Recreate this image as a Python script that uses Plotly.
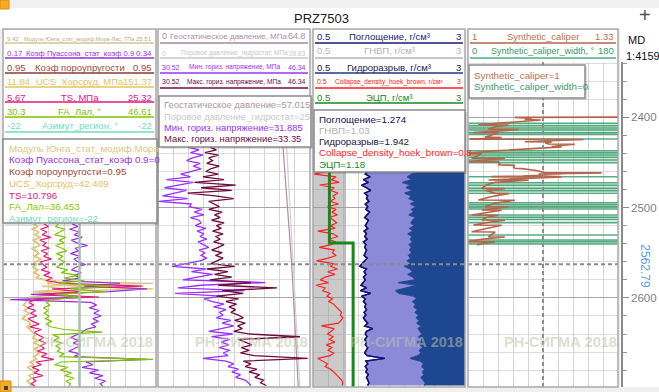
import plotly.graph_objects as go

W, H = 659, 392
FONT = "Liberation Sans"

# ---------------- data ----------------
# Track 1 (geomechanics), depth sampling grid
t1_depth = list(range(2518, 2701, 3))
young = [12.6, 13.0, 12.4, 13.2, 12.7, 13.4, 12.5, 12.9, 13.3, 12.4, 12.8, 13.1, 12.6, 13.5, 12.7, 12.9,
         12.5, 13.0, 12.6, 13.2, 12.8,
         14.0, 25.2, 13.5, 16.0, 12.6, 15.0, 12.2, 11.9,
         11.8, 11.5, 12.0, 11.6, 12.2, 11.7, 11.4, 12.1, 12.3, 11.9, 12.2, 12.4,
         12.8, 12.5, 13.0, 12.6, 13.3, 12.7, 12.9, 13.1, 12.6, 13.0,
         12.2, 12.6, 12.0, 12.4, 12.8, 12.1, 12.5, 11.9, 12.3, 12.4]
ucs = [40.5, 43.8, 39.6, 44.9, 41.2, 46.1, 40.1, 43.5, 45.6, 39.8, 42.7, 44.8, 40.9, 46.5, 41.8, 42.4,
       39.5, 44.2, 41.0, 45.3, 43.0,
       60.2, 52.0, 75.0, 148.6, 44.0, 71.3, 38.5, 35.0,
       33.1, 30.8, 34.9, 31.6, 36.2, 32.4, 30.5, 35.3, 37.4, 33.8, 36.9, 38.5,
       42.1, 39.5, 44.0, 40.8, 46.2, 41.5, 43.9, 45.0, 40.6, 42.2,
       36.8, 39.9, 34.5, 38.2, 41.6, 35.7, 37.9, 34.2, 36.5, 37.2]
ts = [10.9, 11.5, 10.5, 11.3, 10.7, 11.8, 10.4, 11.2, 10.8, 11.6, 10.6, 11.4, 10.9, 11.9, 10.5, 10.8,
      11.3, 10.6, 11.7, 10.9, 12.0,
      11.2, 13.5, 23.6, 12.0, 15.5, 10.7, 18.0, 9.8,
      9.0, 9.6, 8.8, 9.9, 9.2, 10.0, 8.9, 9.5, 10.3, 9.1, 10.6, 9.7,
      10.2, 10.9, 10.3, 11.2, 10.5, 11.0, 10.1, 11.3, 10.6, 12.2,
      9.9, 10.6, 9.4, 10.3, 9.7, 10.8, 9.5, 9.9, 9.3, 9.8]
fa = [36.2, 35.9, 36.9, 36.4, 35.8, 37.0, 36.3, 36.8, 35.9, 36.6, 37.1, 36.0, 36.7, 36.2, 36.9, 36.45,
      36.0, 37.2, 36.5, 38.3, 36.8,
      39.0, 36.2, 42.0, 37.5, 41.2, 36.0, 38.4, 35.6,
      34.9, 35.3, 34.6, 35.1, 34.7, 35.2, 34.8, 35.5, 34.9, 35.4, 36.8, 40.9,
      35.6, 36.3, 35.7, 36.6, 35.9, 36.4, 36.1, 36.8, 36.3, 46.3,
      36.5, 35.8, 37.2, 36.4, 37.6, 36.9, 37.9, 37.0, 37.5, 37.3]
poisson = [0.247, 0.253, 0.244, 0.255, 0.249, 0.258, 0.246, 0.252, 0.264, 0.250, 0.254, 0.245, 0.256, 0.249, 0.253, 0.262,
           0.251, 0.246, 0.257, 0.250, 0.255,
           0.236, 0.300, 0.260, 0.330, 0.288, 0.201, 0.262, 0.178,
           0.268, 0.274, 0.266, 0.277, 0.271, 0.279, 0.270, 0.276, 0.268, 0.273, 0.262, 0.258,
           0.251, 0.245, 0.254, 0.248, 0.256, 0.250, 0.243, 0.255, 0.249, 0.330,
           0.262, 0.270, 0.258, 0.276, 0.266, 0.281, 0.272, 0.284, 0.278, 0.281]
azimuth_depth = [2518, 2699]
azimuth = [-22, -22]

# Track 2 (stresses)
t2_depth = list(range(2433, 2698, 3))
sh_min = [33.6, 34.8, 33.9, 35.2, 34.1, 33.5, 34.9, 34.2, 35.0, 33.8,
          32.9, 33.9, 31.4, 34.2, 32.6, 31.2, 33.5, 32.1, 31.0, 33.6,
          30.6, 34.0, 33.8, 35.1, 34.3, 35.3, 33.9, 34.8, 35.0, 34.4,
          35.5, 34.6, 35.3, 34.9, 35.6, 34.7, 35.2, 35.8, 34.8, 35.4,
          35.0, 35.6, 34.9, 33.5, 32.0, 35.5, 34.0, 36.2, 34.6, 33.1,
          41.7, 35.0, 32.6, 39.5, 32.3, 37.0, 35.3, 36.2, 37.4, 36.3,
          37.6, 36.9, 37.3, 36.6, 38.1, 37.2, 38.4, 37.0, 35.8, 38.3,
          36.1, 38.0, 37.1, 37.9, 36.9, 38.0, 37.3, 37.8, 35.2, 37.6,
          38.4, 37.8, 38.9, 38.2, 39.1, 38.6, 39.6, 39.9, 40.2]
sh_max = [35.9, 36.6, 35.4, 36.8, 35.8, 36.2, 35.6, 36.9, 36.0, 35.5,
          36.8, 35.2, 37.4, 34.3, 38.6, 35.0, 38.2, 33.6, 36.5, 38.4,
          35.8, 36.3, 36.9, 35.8, 37.2, 36.4, 37.0, 36.1, 37.4, 36.6,
          37.1, 36.2, 37.3, 36.5, 37.0, 36.3, 37.4, 36.8, 36.1, 37.2,
          36.5, 37.3, 36.7, 36.0, 38.5, 35.6, 37.8, 36.4, 38.2, 35.9,
          40.2, 36.8, 42.9, 37.2, 39.4, 36.6, 38.9, 37.6, 38.7, 37.9,
          38.6, 38.1, 38.9, 39.4, 38.5, 39.6, 38.8, 39.3, 38.4, 40.1,
          45.3, 38.9, 39.6, 40.3, 39.2, 40.0, 39.1, 40.5, 46.1, 39.4,
          40.2, 39.6, 40.8, 40.0, 41.1, 40.6, 41.5, 41.2, 41.8]
geo_depth = [2433, 2562.79, 2699]
geostatic = [53.3, 57.0, 59.8]
pore = [24.4, 25.6, 26.9]

# Track 3 (mud weight window)
t3_depth = list(range(2460, 2700, 3))
loss = [1.40, 1.36, 1.44, 1.33, 1.41, 1.30, 1.38, 1.45, 1.35, 1.40,
        1.38, 1.42, 1.36, 1.40, 1.37, 1.43, 1.39, 1.35, 1.41, 1.38,
        1.36, 1.40, 1.34, 1.38, 1.35, 1.39, 1.33, 1.37, 1.35, 1.38,
        1.36, 1.34, 1.39, 1.35, 1.30, 1.27, 1.38, 1.34, 1.37, 1.33,
        1.36, 1.33, 1.29, 1.38, 1.28, 1.45, 1.30, 1.36, 1.33, 1.37,
        1.35, 1.38, 1.34, 1.37, 1.33, 1.36, 1.40, 1.35, 1.48, 1.38,
        1.36, 1.39, 1.35, 1.38, 1.36, 1.40, 1.37, 1.35, 1.39, 1.68,
        1.37, 1.40, 1.36, 1.39, 1.37, 1.41, 1.38, 1.40, 1.42, 1.40]
frac = [2.26, 2.12, 2.05, 2.14, 1.97, 2.10, 2.03, 2.15, 2.01, 2.12,
        2.08, 2.18, 2.10, 2.20, 2.12, 2.16, 2.08, 2.19, 2.14, 2.11,
        2.17, 2.09, 2.15, 2.06, 2.13, 2.10, 2.14, 2.08, 2.12, 2.09,
        2.13, 2.07, 2.11, 2.05, 2.12, 2.00, 2.10, 2.14, 2.06, 2.15,
        2.18, 1.90, 2.20, 2.05, 1.86, 1.92, 2.16, 2.21, 2.14, 2.19,
        2.16, 2.22, 2.18, 2.24, 2.20, 2.25, 2.21, 2.28, 2.23, 2.26,
        2.30, 2.24, 2.29, 2.22, 2.27, 2.31, 2.25, 2.28, 2.23, 2.10,
        2.27, 2.32, 2.29, 2.34, 2.30, 2.33, 2.28, 2.32, 2.35, 2.33]
collapse = [0.72, 0.52, 0.88, 0.80, 0.93, 0.61, 0.85, 0.79, 0.91, 0.83,
            0.86, 0.78, 0.92, 0.74, 0.88, 0.81, 0.90, 0.77, 0.84, 0.89,
            0.79, 0.86, 0.58, 0.83, 0.91, 0.76, 0.87, 0.80, 0.60, 0.85,
            0.82, 0.88, 0.75, 0.56, 0.84, 0.79, 0.90, 0.74, 0.86, 0.70,
            0.62, 0.75, 0.55, 0.70, 0.66, 0.78, 0.73, 0.82, 0.76, 0.84,
            0.88, 0.93, 0.97, 0.95, 0.99, 0.96, 0.92, 0.64, 0.85, 0.80,
            0.74, 0.83, 0.77, 0.86, 0.72, 0.81, 0.75, 0.84, 0.78, 0.58,
            0.66, 0.74, 0.70, 0.79, 0.84, 0.88, 0.93, 0.97, 0.99, 0.98]
gnvp_depth = [2455, 2699]
gnvp = [1.03, 1.03]
ecd_depth = [2455, 2539.2, 2539.2, 2699]
ecd = [0.77, 0.77, 1.16, 1.16]

# Track 4 (synthetic caliper)
cw_depth = [2406.6, 2409.3, 2411.8, 2414.1, 2417.1, 2418.8, 2424.0, 2437.0, 2439.2, 2441.7,
            2444.3, 2447.3, 2450.3, 2465.8, 2472.4, 2475.3, 2478.6, 2481.3, 2484.2, 2494.6,
            2496.8, 2499.0, 2501.6, 2508.2, 2510.7, 2513.0, 2516.7, 2530.3, 2535.8, 2537.8, 2540.3]
cw = [180, 180, 180, 180, 180, 180, 180, 180, 180, 180,
      180, 180, 180, 180, 180, 180, 180, 180, 180, 180,
      180, 180, 180, 180, 180, 180, 180, 180, 180, 180, 180]
cw_band_depth = [2412.4, 2443.6, 2478.6, 2498.0, 2512.4, 2538.0]
cw_band_span = [11.0, 12.5, 11.0, 6.5, 8.0, 4.5]
cw_band = [180, 180, 180, 180, 180, 180]
cal_depth = [2399.8, 2400.1, 2401.0, 2402.5, 2403.0, 2404.0, 2406.0, 2408.3, 2408.7, 2410.5,
             2413.1, 2413.5, 2415.0, 2416.8, 2417.2, 2419.5, 2422.0, 2422.4, 2424.2, 2424.6,
             2426.0, 2427.0, 2427.3, 2428.5, 2429.6, 2429.9, 2431.0, 2432.5, 2432.8, 2435.0,
             2437.5, 2439.9, 2440.2, 2443.0, 2445.4, 2445.7, 2447.5, 2449.1, 2449.4, 2451.0,
             2452.8, 2453.1, 2455.0, 2456.5, 2456.8, 2459.0, 2461.3, 2461.6, 2462.8, 2463.1,
             2465.0, 2465.7, 2466.0, 2468.0, 2469.4, 2469.7, 2472.0, 2475.0, 2478.7, 2479.0,
             2481.0, 2484.2, 2484.5, 2488.0, 2491.6, 2491.9, 2495.0, 2499.0, 2499.3, 2501.0,
             2502.7, 2503.0, 2505.0, 2508.2, 2508.5, 2511.0, 2513.7, 2514.0, 2516.0, 2519.3,
             2519.6, 2523.0, 2526.7, 2527.0, 2530.0, 2532.2, 2532.5, 2535.0, 2537.7, 2538.0,
             2540.0, 2541.4]
caliper = [1.33, 1.103, 1.14, 1.125, 1.16, 1.13, 1.09, 1.023, 1.089, 1.06,
           1.045, 1.111, 1.07, 1.012, 1.067, 1.05, 1.037, 1.074, 1.004, 1.254,
           1.16, 1.125, 1.184, 1.17, 1.177, 1.235, 1.21, 1.184, 1.206, 1.12,
           1.05, 1.001, 1.03, 1.02, 1.008, 1.081, 1.04, 1.001, 1.067, 1.07,
           1.067, 1.103, 1.10, 1.103, 1.118, 1.15, 1.169, 1.294, 1.155, 1.206,
           1.12, 1.052, 1.206, 1.10, 1.045, 1.133, 1.06, 1.04, 1.03, 1.081,
           1.04, 1.06, 1.09, 1.05, 1.023, 1.103, 1.06, 1.037, 1.089, 1.06,
           1.03, 1.074, 1.05, 1.008, 1.067, 1.04, 1.03, 1.081, 1.05, 1.012,
           1.074, 1.045, 1.008, 1.06, 1.05, 1.045, 1.081, 1.03, 1.001, 1.059,
           1.03, 1.02]

cursor_depth = 2562.79

# ---------------- geometry helpers ----------------
TRACKS = [(3, 156), (158, 310), (313, 465), (468, 618)]
PLOT_TOP, PLOT_BOT = 62, 387
DEPTH_TOP, DEPTH_BOT = 2338.76, 2698.67


def fx(px):
    return px / W


def fy(py):
    return 1 - py / H


layout = dict(
    width=W, height=H, margin=dict(l=0, r=0, t=0, b=0),
    paper_bgcolor="#f0f0f0", plot_bgcolor="white", showlegend=False,
    font=dict(family=FONT),
)

layout["yaxis"] = dict(
    domain=[fy(PLOT_BOT), fy(PLOT_TOP)], range=[DEPTH_BOT, DEPTH_TOP], autorange=False,
    anchor="free", position=fx(622), side="right",
    showgrid=True, gridcolor="#a6a6a6", gridwidth=1, tick0=0, dtick=100,
    ticks="outside", ticklen=6, tickcolor="#8a8a8a",
    tickfont=dict(size=11.5, color="#808080", family=FONT),
    showline=True, linecolor="#8a8a8a", linewidth=1.5, zeroline=False,
    minor=dict(dtick=20, showgrid=True, gridcolor="#dcdcdc", ticks="outside", ticklen=4, tickcolor="#9a9a9a"),
)


def add_axis(n, track, rng, base=None):
    lo, hi = rng
    if lo == hi:
        lo, hi = lo - 1, hi + 1
    name = "xaxis" if n == 1 else "xaxis%d" % n
    d = dict(domain=[fx(TRACKS[track][0]), fx(TRACKS[track][1])], range=[lo, hi], autorange=False,
             anchor="y", showticklabels=False, ticks="", zeroline=False, showline=False)
    if base is None:
        d.update(showgrid=True, gridcolor="#d4d4d4", gridwidth=1, tick0=lo, dtick=(hi - lo) / 10)
    else:
        d.update(overlaying=base, showgrid=False, visible=False)
    layout[name] = d


# Track 1 axes
add_axis(1, 0, (11.84, 151.37))
add_axis(2, 0, (9.42, 25.51), "x")
add_axis(3, 0, (0.17, 0.34), "x")
add_axis(4, 0, (5.67, 25.32), "x")
add_axis(5, 0, (30.3, 46.61), "x")
add_axis(6, 0, (-22, -22), "x")
# Track 2
add_axis(7, 1, (0, 64.8))
add_axis(8, 1, (0, 28.83), "x7")
add_axis(9, 1, (30.52, 46.34), "x7")
# Track 3
add_axis(10, 2, (0.5, 3))
# Track 4
add_axis(11, 3, (0, 180))
add_axis(12, 3, (1, 1.33), "x11")

C = dict(young="#d6c685", poisson="#9a2fe0", poro="#a04a35", ucs="#e6c35c", ts="#e3197c",
         fa="#7cc400", az="#70dcc0", geo="#b48ea2", pore="#cfcfd6", shmin="#9b30ff",
         shmax="#6e0c3e", loss="#12127a", gnvp="#b0b0b0", frac="#1e4791", coll="#ff2020",
         ecd="#168a16", cal="#b5654a", cw="#3d9e6e")

traces = []


def line(x, y, ax, color, w=1.3, **kw):
    traces.append(go.Scatter(x=x, y=y, xaxis=ax, yaxis="y", mode="lines",
                             line=dict(color=color, width=w), hoverinfo="skip", **kw))


# Track 1
line(azimuth, azimuth_depth, "x6", "#9fc4aa", 2.5)
line(young, t1_depth, "x2", C["young"], 1.2)
line(ucs, t1_depth, "x", C["ucs"], 1.2)
line(ts, t1_depth, "x4", C["ts"], 1.2)
line(fa, t1_depth, "x5", C["fa"], 1.2)
line(poisson, t1_depth, "x3", C["poisson"], 1.2)
# Track 2
line(pore, geo_depth, "x8", C["pore"], 1.2)
line(geostatic, geo_depth, "x7", C["geo"], 1.2)
line(sh_min, t2_depth, "x9", C["shmin"], 1.3)
line(sh_max, t2_depth, "x9", C["shmax"], 1.3)
# Track 3
line(gnvp, gnvp_depth, "x10", C["gnvp"], 1.2, fill="tozerox", fillcolor="rgba(150,150,150,0.5)")
line(loss, t3_depth, "x10", C["loss"], 1.4)
line(frac, t3_depth, "x10", C["frac"], 1.2, fill="tonextx", fillcolor="#8a8ad9")
line([3, 3], [t3_depth[0], t3_depth[-1]], "x10", C["frac"], 0.5, fill="tonextx", fillcolor="#1e4791")
line(loss, t3_depth, "x10", C["loss"], 1.4)
line(collapse, t3_depth, "x10", C["coll"], 1.2)
line(ecd, ecd_depth, "x10", C["ecd"], 3)
# Track 4
traces.append(go.Bar(x=cw_band, y=cw_band_depth, orientation="h", xaxis="x11", yaxis="y", width=cw_band_span,
                     marker=dict(color="rgba(120,195,155,0.35)", line=dict(width=0)), hoverinfo="skip"))
traces.append(go.Bar(x=cw, y=cw_depth, orientation="h", xaxis="x11", yaxis="y", width=1.6,
                     marker=dict(color="rgba(61,158,110,0.85)", line=dict(width=0)), hoverinfo="skip"))
line(caliper, cal_depth, "x12", C["cal"], 1.6)

fig = go.Figure(data=traces)

# ---------------- shapes ----------------
shapes = []


def rect(x0, y0, x1, y1, fill="rgba(0,0,0,0)", lc="rgba(0,0,0,0)", lw=0, layer="above"):
    shapes.append(dict(type="rect", xref="paper", yref="paper", x0=fx(x0), x1=fx(x1), y0=fy(y1), y1=fy(y0),
                       fillcolor=fill, line=dict(color=lc, width=lw), layer=layer))


def hl(x0, x1, y, color, lw=1.5):
    shapes.append(dict(type="line", xref="paper", yref="paper", x0=fx(x0), x1=fx(x1), y0=fy(y), y1=fy(y),
                       line=dict(color=color, width=lw), layer="above"))


# backgrounds
rect(0, 8, W, 29, fill="white", layer="below")
for x0, x1 in TRACKS:
    rect(x0, 29, x1, PLOT_BOT, fill="white", layer="below")
rect(620, 29, W, PLOT_BOT, fill="white", layer="below")

# cursor + center dashed lines
for x0, x1 in TRACKS:
    shapes.append(dict(type="line", xref="paper", yref="y", x0=fx(x0), x1=fx(x1), y0=cursor_depth, y1=cursor_depth,
                       line=dict(color="#8c8c8c", width=2, dash="4px,3px"), layer="above"))
shapes.append(dict(type="line", xref="x11", yref="paper", x0=90, x1=90, y0=fy(PLOT_BOT), y1=fy(PLOT_TOP),
                   line=dict(color="#8c8c8c", width=2, dash="4px,3px"), layer="above"))

# covers under the headers
rect(4, 60, 155, 140, fill="white")
rect(159, 60, 309, 96, fill="white")
rect(314, 60, 464, 110, fill="white")

# track frames
for x0, x1 in TRACKS:
    rect(x0, 29, x1, PLOT_BOT, lc="#a8a8a8", lw=1.5)

# legend boxes
for (x0, y0, x1, y1) in [(3, 139, 157, 223), (159, 96, 311, 147), (314, 110, 465, 172), (469, 65, 585, 98)]:
    rect(x0 + 2, y0 + 2, x1 + 2, y1 + 2, fill="rgba(0,0,0,0.12)")
    rect(x0, y0, x1, y1, fill="white", lc="#8a8a8a", lw=1.5)

# orange corner marks
rect(0, 0, 9, 9, fill="#f7a928", lc="#e08a00", lw=1)
rect(0, 381, 11, 392, fill="#f7a928", lc="#e08a00", lw=1)
rect(4, 386, 8, 390, fill="#404040")

# ---------------- annotations ----------------
ann = []


def txt(px, py, s, color, size=10, anchor="left", **kw):
    ann.append(dict(x=fx(px), y=fy(py), xref="paper", yref="paper", text=s, showarrow=False,
                    xanchor=anchor, yanchor="middle", font=dict(family=FONT, size=size, color=color), **kw))


def header(track, ty, ly, left, name, right, color, size=10, lcolor=None, nsize=None, nx=None):
    x0, x1 = TRACKS[track]
    txt(x0 + 2, ty, left, color, size, "left")
    if nx is None:
        txt((x0 + x1) / 2, ty, name, color, nsize or size, "center")
    else:
        txt(nx, ty, name, color, nsize or size, "left")
    txt(x1 - 2, ty, right, color, size, "right")
    hl(x0 + 2, x1 - 2, ly, lcolor or color, 1.6)


header(0, 39, 43, "9.42", "Модуль Юнга_стат_модиф.Мора-Лас, ГПа", "25.51", "#b9ad7a", 6, "#cfc598", 5.6)
header(0, 53, 58, "0.17", "Коэф Пуассона_стат_коэф 0.9", "0.34", C["poisson"], 8, None, 7.6)
header(0, 67, 73, "0.95", "Коэф пороупругости", "0.95", C["poro"], 9.5, "#8b3a3a")
header(0, 82, 87, "11.84", "UCS_Хорсруд, МПа", "151.37", C["ucs"], 9.5)
header(0, 97, 102, "5.67", "TS, МПа", "25.32", C["ts"], 9.5)
header(0, 111, 117, "30.3", "FA_Лал, °", "46.61", C["fa"], 9.5)
header(0, 126, 132, "-22", "Азимут_регион, °", "-22", C["az"], 9.5)

header(1, 36, 43, "0", "Геостатическое давление, МПа", "64.8", "#b08c9c", 9, "#a88898", 8, 168)
header(1, 53, 58, "0", "Поровое давление_гидростат, МПа", "28.83", "#c8c8c8", 6.5)
header(1, 67, 73, "30.52", "Мин. гориз. напряжение, МПа", "46.34", C["shmin"], 7, None, 6.6)
header(1, 82, 88, "30.52", "Макс. гориз. напряжение, МПа", "46.34", C["shmax"], 7, None, 6.6)

header(2, 36, 43, "0.5", "Поглощение, г/см³", "3", "#1a1a70", 9.5)
header(2, 51, 58, "0.5", "ГНВП, г/см³", "3", "#b4b4b4", 9.5)
header(2, 67, 73, "0.5", "Гидроразрыв, г/см³", "3", "#202050", 9.5, "#1e3a80")
header(2, 82, 88, "0.5", "Collapse_density_hoek_brown, г/см³", "3", C["coll"], 7, None, 6.6)
header(2, 97, 103, "0.5", "ЭЦП, г/см³", "3", C["ecd"], 9.5)

header(3, 36, 43, "1", "Synthetic_caliper", "1.33", "#c0704a", 9.5, C["cal"])
header(3, 51, 58, "0", "Synthetic_caliper_width, °", "180", "#3a9a6a", 9.5, "#4caf80", 9)

# legend boxes text
for i, (s, c) in enumerate([("Модуль Юнга_стат_модиф.Мора", "#d8c880"),
                            ("Коэф Пуассона_стат_коэф 0.9=0", C["poisson"]),
                            ("Коэф пороупругости=0.95", C["poro"]),
                            ("UCS_Хорсруд=42.409", "#e8c060"),
                            ("TS=10.796", C["ts"]),
                            ("FA_Лал=36.453", "#88c800"),
                            ("Азимут_регион=-22", C["az"])]):
    txt(7, 148 + i * 11.8, s, c, 9.8)
for i, (s, c) in enumerate([("Геостатическое давление=57.015", "#a8969e"),
                            ("Поровое давление_гидростат=25", "#c8c8c8"),
                            ("Мин. гориз. напряжение=31.885", C["shmin"]),
                            ("Макс. гориз. напряжение=33.35", C["shmax"])]):
    txt(162, 105 + i * 11.2, s, c, 9.4)
for i, (s, c) in enumerate([("Поглощение=1.274", "#101050"),
                            ("ГНВП=1.03", "#b0b0b0"),
                            ("Гидроразрыв=1.942", "#202040"),
                            ("Collapse_density_hoek_brown=0.8", C["coll"]),
                            ("ЭЦП=1.18", C["ecd"])]):
    txt(317, 119 + i * 11.3, s, c, 9.8)
for i, (s, c) in enumerate([("Synthetic_caliper=1", "#c0704a"),
                            ("Synthetic_caliper_width=0", "#3a9a6a")]):
    txt(472, 75 + i * 12, s, c, 9.8)

# watermarks
for x0, x1 in TRACKS:
    txt((x0 + x1) / 2 + 17, 342, "<b>РН-СИГМА 2018</b>", "rgba(190,196,168,0.55)", 14.5, "center")

# title / depth column
txt(321, 18, "PRZ7503", "#202020", 13, "center")
txt(645, 15, "+", "#505050", 20, "center")
txt(626, 40, "MD", "#101010", 11)
txt(624, 56, "1:4159", "#101010", 11)
ann.append(dict(x=fx(645), y=cursor_depth, xref="paper", yref="y", text="2562.79", showarrow=False,
                textangle=90, xanchor="center", yanchor="middle", yshift=-2, bgcolor="white",
                font=dict(family=FONT, size=12, color="#5aa0e6")))

layout["shapes"] = shapes
layout["annotations"] = ann
fig.update_layout(**layout)
fig.write_html("out.html", config={"displayModeBar": False},
               post_script="document.body.style.margin='0';document.body.style.overflow='hidden';")
